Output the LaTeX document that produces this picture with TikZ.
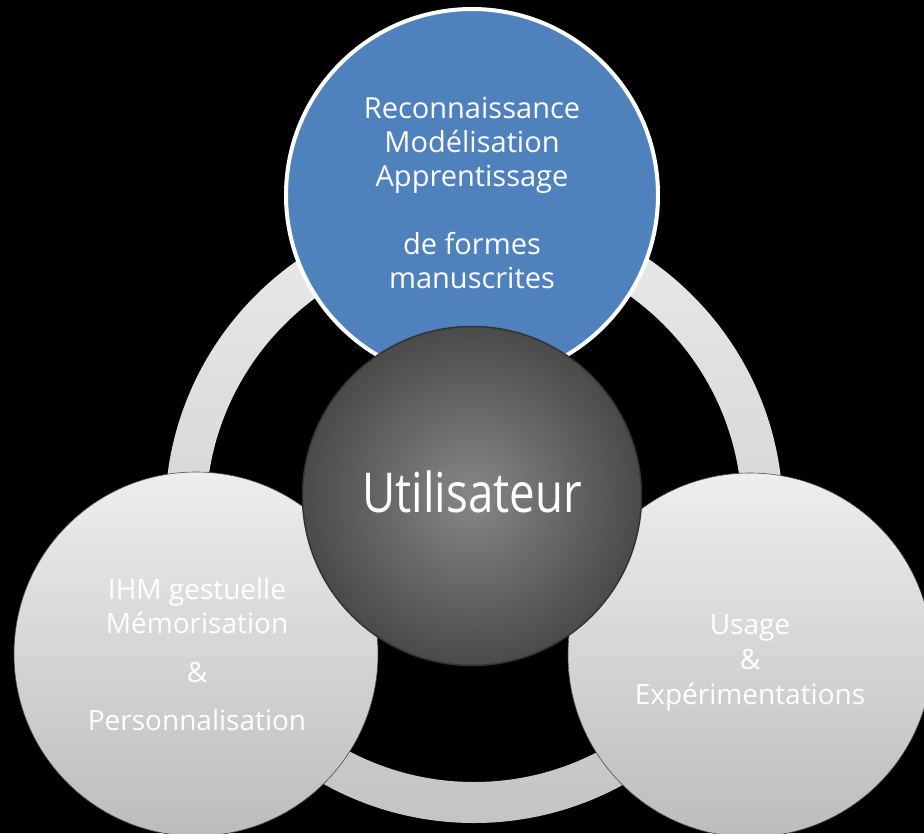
\documentclass[tikz,border=0pt]{standalone}
\usepackage{fontspec}
\setmainfont{Open Sans}
\newfontfamily\hubfont[FakeStretch=0.83]{Open Sans}
\definecolor{blueacc}{HTML}{4F81BD}
\definecolor{ringtop}{HTML}{EAEAEA}
\definecolor{ringbot}{HTML}{C4C4C4}
\definecolor{disctop}{HTML}{EEEEEE}
\definecolor{discbot}{HTML}{BCBCBC}
\definecolor{hubin}{HTML}{878787}
\definecolor{hubout}{HTML}{4A4A4A}
\definecolor{hubrim}{HTML}{333333}
\begin{document}
\begin{tikzpicture}[x=1pt,y=-1pt,
  disc/.style={circle, inner sep=0pt, top color=disctop, bottom color=discbot, draw=black!70, line width=0.6pt},
  label/.style={text=white, align=center, inner sep=0pt, font=\fontsize{29}{34}\selectfont}
]
\useasboundingbox (0,0) rectangle (924,833);
\clip (0,0) rectangle (924,833);
\fill[black] (0,0) rectangle (924,833);
% ring
\coordinate (rc) at (474,514);
\shade[top color=ringtop, bottom color=ringbot, even odd rule] (rc) circle[radius=309] (rc) circle[radius=268];
% top blue disc
\node[circle, inner sep=0pt, minimum size=372pt, fill=blueacc, draw=white, line width=4pt] (top) at (472,195) {};
% left and right discs
\node[disc, minimum size=364pt] (left) at (196,654) {};
\node[disc, minimum size=364pt] (right) at (750,655) {};
% central hub
\node[circle, inner sep=0pt, minimum size=339pt, inner color=hubin, outer color=hubout, draw=hubrim, line width=1.5pt] (hub) at (472,496) {};
% texts
\node[label] (toptext) at (472,192.5) {Reconnaissance\\Modélisation\\Apprentissage\\[34pt]de formes\\manuscrites};
\node[label, font=\fontsize{28}{34}\selectfont] (lefttext) at (197,654) {IHM gestuelle\\Mémorisation\\[15pt]\&\\[14pt]Personnalisation};
\node[label, font=\fontsize{28}{35}\selectfont] (righttext) at (750,663) {Usage\\\&\\Expérimentations};
\node[text=white, inner sep=0pt, font=\hubfont\fontsize{55}{60}\selectfont] (hubtext) at (472,492) {Utilisateur};
\end{tikzpicture}
\end{document}
